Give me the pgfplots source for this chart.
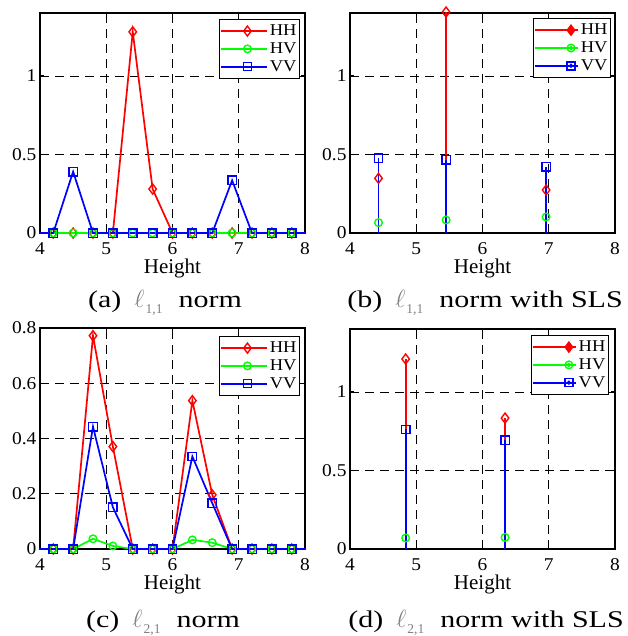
\documentclass[border=0pt]{standalone}
\usepackage{fontspec}
\setmainfont{Liberation Serif}
\newfontfamily\tickfont{Liberation Serif}[FakeStretch=1.08]
\newfontfamily\legfont{Liberation Serif}[FakeStretch=1.12]
\newfontfamily\capfont{Liberation Serif}[FakeStretch=1.25]
\usepackage{pgfplots}
\pgfplotsset{compat=1.18}
\definecolor{mred}{rgb}{1,0,0}
\definecolor{mgreen}{rgb}{0,1,0}
\definecolor{mblue}{rgb}{0,0,1}
\newcommand{\subcap}[3]{{\capfont(#1)}\hspace{13pt}{\color{black!50}\fontsize{28}{30}\selectfont$\ell$\hspace{1pt}\raisebox{-6pt}{\fontsize{13.5}{15}\selectfont #2}}\hspace{16pt}{\capfont #3}}
\pgfplotsset{
  common/.style={
    scale only axis, width=265pt, clip=false,
    xmin=4, xmax=8, xtick={4,5,6,7,8}, ymin=0,
    axis line style={line width=1.1pt},
    grid=major, major grid style={black, line width=0.6pt, dash pattern=on 9pt off 6pt},
    tick align=inside, major tick length=4pt, tick style={black, line width=0.9pt},
    /pgf/number format/assume math mode=true,
    xticklabel style={font=\tickfont\fontsize{18}{21}\selectfont, anchor=base, yshift=-21pt},
    yticklabel style={font=\tickfont\fontsize{18}{21}\selectfont},
    xlabel=Height,
    xlabel style={font=\fontsize{21}{24}\selectfont, at={(axis description cs:0.5,0)}, anchor=base, yshift=-40pt},
    legend style={font=\legfont\fontsize{16.5}{19}\selectfont, draw=black, line width=1pt, anchor=north east, inner xsep=1pt, inner ysep=3.5pt, row sep=1.5pt},
    legend cell align=left,
  },
  linelegend/.style={legend image code/.code={
    \path (-7pt,0pt) -- (39pt,0pt);
    \draw[##1, mark=none] (0pt,0pt) -- (39pt,0pt);
    \draw[##1, only marks] plot coordinates {(19.5pt,0pt)};}},
  stemleg/.style={legend image code/.code={
    \path (-8pt,0pt) -- (35pt,0pt);
    \draw[##1, mark=none] (0pt,0pt) -- (28pt,0pt);
    \draw[##1, only marks] plot coordinates {(28pt,0pt)};
    \fill[##1, mark=none] (28pt,0pt) circle (1.2pt);}},
  HHl/.style={draw=mred, line width=1.7pt, mark=none},
  HVl/.style={draw=mgreen, line width=1.7pt, mark=none},
  VVl/.style={draw=mblue, line width=1.7pt, mark=none},
  HHm/.style={only marks, mark=diamond, mark size=5pt, mark options={draw=mred, fill=none, solid, line width=1.4pt}},
  HVm/.style={only marks, mark=o, mark size=3.8pt, mark options={draw=mgreen, fill=none, solid, line width=1.4pt}},
  VVm/.style={only marks, mark=square, mark size=4.2pt, mark options={draw=mblue, fill=none, solid, line width=1.4pt}},
  HH/.style={mred, line width=1.7pt, mark=diamond, mark size=5pt, mark options={solid, line width=1.4pt}},
  HV/.style={mgreen, line width=1.7pt, mark=o, mark size=3.8pt, mark options={solid, line width=1.4pt}},
  VV/.style={mblue, line width=1.7pt, mark=square, mark size=4pt, mark options={solid, line width=1.4pt}},
}
\begin{document}
\begin{tikzpicture}
\path[use as bounding box] (0pt,0pt) rectangle (627pt,-636pt);
% (a)
\begin{axis}[common, height=220pt, at={(40pt,-233pt)}, anchor=south west,
  ymax=1.4, ytick={0,0.5,1}, legend style={at={(0.981,0.973)}}]
\addplot[HHl, forget plot] coordinates {(4,0)(4.2,0)(4.5,0)(4.8,0)(5.1,0)(5.4,1.28)(5.7,0.28)(6.0,0)(6.3,0)(6.6,0)(6.9,0)(7.2,0)(7.5,0)(7.8,0)(8,0)};
\addplot[HHm, forget plot] coordinates {(4.2,0)(4.5,0)(4.8,0)(5.1,0)(5.4,1.28)(5.7,0.28)(6.0,0)(6.3,0)(6.6,0)(6.9,0)(7.2,0)(7.5,0)(7.8,0)};
\addplot[HVl, forget plot] coordinates {(4,0)(4.2,0)(4.5,0)(4.8,0)(5.1,0)(5.4,0)(5.7,0)(6.0,0)(6.3,0)(6.6,0)(6.9,0)(7.2,0)(7.5,0)(7.8,0)(8,0)};
\addplot[HVm, forget plot] coordinates {(4.2,0)(4.5,0)(4.8,0)(5.1,0)(5.4,0)(5.7,0)(6.0,0)(6.3,0)(6.6,0)(6.9,0)(7.2,0)(7.5,0)(7.8,0)};
\addplot[VVl, forget plot] coordinates {(4,0)(4.2,0)(4.5,0.39)(4.8,0)(5.1,0)(5.4,0)(5.7,0)(6.0,0)(6.3,0)(6.6,0)(6.9,0.335)(7.2,0)(7.5,0)(7.8,0)(8,0)};
\addplot[VVm, forget plot] coordinates {(4.2,0)(4.5,0.39)(4.8,0)(5.1,0)(5.4,0)(5.7,0)(6.0,0)(6.3,0)(6.6,0)(6.9,0.335)(7.2,0)(7.5,0)(7.8,0)};
\addlegendimage{linelegend, HH}\addlegendentry{HH}
\addlegendimage{linelegend, HV}\addlegendentry{HV}
\addlegendimage{linelegend, VV}\addlegendentry{VV}
\end{axis}
% (b)
\begin{axis}[common, height=220pt, at={(350pt,-233pt)}, anchor=south west,
  ymax=1.4, ytick={0,0.5,1}, legend style={at={(0.985,0.977)}}]
\addplot[HHl, forget plot] coordinates {(4.43,0)(4.43,0.348)};
\addplot[HHl, forget plot] coordinates {(5.45,0)(5.45,1.406)};
\addplot[HHl, forget plot] coordinates {(6.96,0)(6.96,0.274)};
\addplot[HHm, forget plot] coordinates {(4.43,0.348)(5.45,1.406)(6.96,0.274)};
\addplot[HVl, forget plot] coordinates {(4.43,0)(4.43,0.066)};
\addplot[HVl, forget plot] coordinates {(5.45,0)(5.45,0.083)};
\addplot[HVl, forget plot] coordinates {(6.96,0)(6.96,0.102)};
\addplot[HVm, forget plot] coordinates {(4.43,0.066)(5.45,0.083)(6.96,0.102)};
\addplot[VVl, forget plot] coordinates {(4.43,0)(4.43,0.476)};
\addplot[VVl, forget plot] coordinates {(5.45,0)(5.45,0.465)};
\addplot[VVl, forget plot] coordinates {(6.96,0)(6.96,0.42)};
\addplot[VVm, forget plot] coordinates {(4.43,0.476)(5.45,0.465)(6.96,0.42)};
\addlegendimage{stemleg, HH, mark=diamond*}\addlegendentry{HH}
\addlegendimage{stemleg, HV}\addlegendentry{HV}
\addlegendimage{stemleg, VV}\addlegendentry{VV}
\end{axis}
% (c)
\begin{axis}[common, height=221pt, at={(40pt,-549pt)}, anchor=south west,
  ymax=0.8, ytick={0,0.2,0.4,0.6,0.8}, legend style={at={(0.981,0.964)}}]
\addplot[HHl, forget plot] coordinates {(4,0)(4.2,0)(4.5,0)(4.8,0.772)(5.1,0.371)(5.4,0)(5.7,0)(6.0,0)(6.3,0.537)(6.6,0.196)(6.9,0)(7.2,0)(7.5,0)(7.8,0)(8,0)};
\addplot[HHm, forget plot] coordinates {(4.2,0)(4.5,0)(4.8,0.772)(5.1,0.371)(5.4,0)(5.7,0)(6.0,0)(6.3,0.537)(6.6,0.196)(6.9,0)(7.2,0)(7.5,0)(7.8,0)};
\addplot[HVl, forget plot] coordinates {(4,0)(4.2,0)(4.5,0)(4.8,0.037)(5.1,0.011)(5.4,0)(5.7,0)(6.0,0)(6.3,0.033)(6.6,0.023)(6.9,0)(7.2,0)(7.5,0)(7.8,0)(8,0)};
\addplot[HVm, forget plot] coordinates {(4.2,0)(4.5,0)(4.8,0.037)(5.1,0.011)(5.4,0)(5.7,0)(6.0,0)(6.3,0.033)(6.6,0.023)(6.9,0)(7.2,0)(7.5,0)(7.8,0)};
\addplot[VVl, forget plot] coordinates {(4,0)(4.2,0)(4.5,0)(4.8,0.443)(5.1,0.151)(5.4,0)(5.7,0)(6.0,0)(6.3,0.335)(6.6,0.166)(6.9,0)(7.2,0)(7.5,0)(7.8,0)(8,0)};
\addplot[VVm, forget plot] coordinates {(4.2,0)(4.5,0)(4.8,0.443)(5.1,0.151)(5.4,0)(5.7,0)(6.0,0)(6.3,0.335)(6.6,0.166)(6.9,0)(7.2,0)(7.5,0)(7.8,0)};
\addlegendimage{linelegend, HH}\addlegendentry{HH}
\addlegendimage{linelegend, HV}\addlegendentry{HV}
\addlegendimage{linelegend, VV}\addlegendentry{VV}
\end{axis}
% (d)
\begin{axis}[common, height=220pt, at={(350pt,-549pt)}, anchor=south west,
  ymax=1.4, ytick={0,0.5,1}, legend style={at={(0.977,0.973)}}]
\addplot[HHl, forget plot] coordinates {(4.84,0)(4.84,1.209)};
\addplot[HHl, forget plot] coordinates {(6.34,0)(6.34,0.833)};
\addplot[HHm, forget plot] coordinates {(4.84,1.209)(6.34,0.833)};
\addplot[HVl, forget plot] coordinates {(4.84,0)(4.84,0.07)};
\addplot[HVl, forget plot] coordinates {(6.34,0)(6.34,0.074)};
\addplot[HVm, forget plot] coordinates {(4.84,0.07)(6.34,0.074)};
\addplot[VVl, forget plot] coordinates {(4.84,0)(4.84,0.761)};
\addplot[VVl, forget plot] coordinates {(6.34,0)(6.34,0.692)};
\addplot[VVm, forget plot] coordinates {(4.84,0.761)(6.34,0.692)};
\addlegendimage{stemleg, HH, mark=diamond*}\addlegendentry{HH}
\addlegendimage{stemleg, HV}\addlegendentry{HV}
\addlegendimage{stemleg, VV}\addlegendentry{VV}
\end{axis}
% captions
\begin{scope}[every node/.style={anchor=base, font=\fontsize{24}{28}\selectfont}]
\node at (165pt,-307pt) {\subcap{a}{1,1}{norm}};
\node at (485pt,-307pt) {\subcap{b}{1,1}{norm with SLS}};
\node at (163pt,-627pt) {\subcap{c}{2,1}{norm}};
\node at (486pt,-627pt) {\subcap{d}{2,1}{norm with SLS}};
\end{scope}
\end{tikzpicture}
\end{document}
